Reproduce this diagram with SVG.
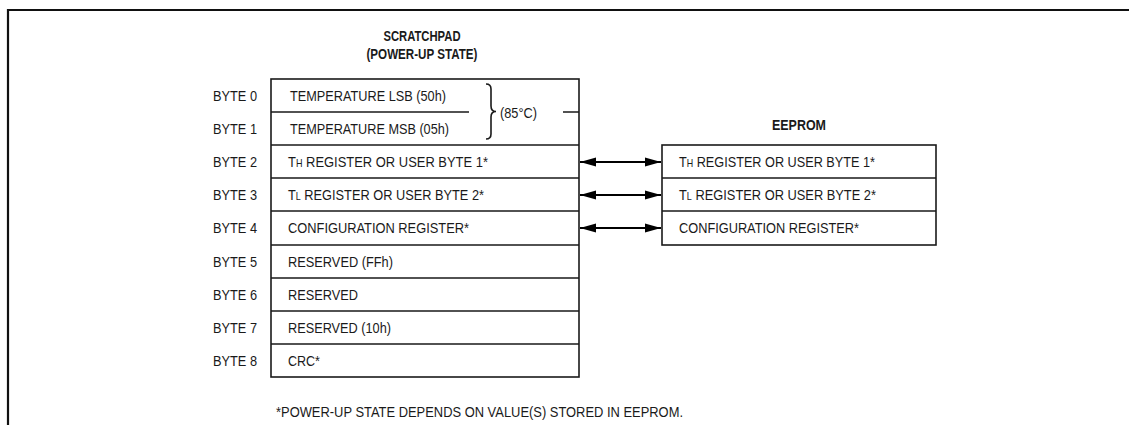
<svg xmlns="http://www.w3.org/2000/svg" width="1129" height="425" viewBox="0 0 1129 425">
<style>
text{font-family:"Liberation Sans",Arial,sans-serif;font-size:15px;fill:#1a1a1a}
.b{font-weight:bold;font-size:14.5px}
.sub{font-size:10.5px}
.box{fill:#fff;stroke:#1a1a1a;stroke-width:1.6}
.ln{stroke:#1a1a1a;stroke-width:1.6;fill:none}
.con{stroke:#000;stroke-width:1.8;fill:none;marker-start:url(#ah);marker-end:url(#ah)}
</style>
<defs>
<marker id="ah" viewBox="0 0 16 10" refX="16" refY="5" markerWidth="16" markerHeight="10" markerUnits="userSpaceOnUse" orient="auto-start-reverse">
<path d="M0,0.5 L16,5 L0,9.5 Z" fill="#000"/>
</marker>
</defs>
<rect width="1129" height="425" fill="#fff"/>
<g id="frame">
<path d="M8,425 V10 H1129" stroke="#111" stroke-width="2.2" fill="none"/>
</g>
<g id="scratchpad">
<text class="b" x="422" y="41" text-anchor="middle" textLength="77" lengthAdjust="spacingAndGlyphs">SCRATCHPAD</text>
<text class="b" x="422" y="59" text-anchor="middle" textLength="111" lengthAdjust="spacingAndGlyphs">(POWER-UP STATE)</text>
<rect class="box" x="271" y="79" width="308" height="298"/>
<path class="ln" d="M271,112 H469 M563,112 H579 M271,145 H579 M271,178 H579 M271,211 H579 M271,245 H579 M271,278 H579 M271,311 H579 M271,344 H579"/>
<path class="ln" stroke-width="1" d="M486,84 Q491,84 491,89 L491,106 Q491,111.5 496,111.5 Q491,111.5 491,117 L491,134 Q491,139 486,139"/>
<text x="500" y="118" textLength="37" lengthAdjust="spacingAndGlyphs">(85°C)</text>
<text x="213" y="101" textLength="44" lengthAdjust="spacingAndGlyphs">BYTE 0</text>
<text x="213" y="134" textLength="44" lengthAdjust="spacingAndGlyphs">BYTE 1</text>
<text x="213" y="167" textLength="44" lengthAdjust="spacingAndGlyphs">BYTE 2</text>
<text x="213" y="200" textLength="44" lengthAdjust="spacingAndGlyphs">BYTE 3</text>
<text x="213" y="233" textLength="44" lengthAdjust="spacingAndGlyphs">BYTE 4</text>
<text x="213" y="267" textLength="44" lengthAdjust="spacingAndGlyphs">BYTE 5</text>
<text x="213" y="300" textLength="44" lengthAdjust="spacingAndGlyphs">BYTE 6</text>
<text x="213" y="333" textLength="44" lengthAdjust="spacingAndGlyphs">BYTE 7</text>
<text x="213" y="366" textLength="44" lengthAdjust="spacingAndGlyphs">BYTE 8</text>
<text x="290" y="101" textLength="156" lengthAdjust="spacingAndGlyphs">TEMPERATURE LSB (50h)</text>
<text x="290" y="134" textLength="159" lengthAdjust="spacingAndGlyphs">TEMPERATURE MSB (05h)</text>
<text x="288" y="167" textLength="200" lengthAdjust="spacingAndGlyphs">T<tspan class="sub">H</tspan> REGISTER OR USER BYTE 1*</text>
<text x="288" y="200" textLength="196" lengthAdjust="spacingAndGlyphs">T<tspan class="sub">L</tspan> REGISTER OR USER BYTE 2*</text>
<text x="288" y="233" textLength="181" lengthAdjust="spacingAndGlyphs">CONFIGURATION REGISTER*</text>
<text x="288" y="267" textLength="105" lengthAdjust="spacingAndGlyphs">RESERVED (FFh)</text>
<text x="288" y="300" textLength="70" lengthAdjust="spacingAndGlyphs">RESERVED</text>
<text x="288" y="333" textLength="103" lengthAdjust="spacingAndGlyphs">RESERVED (10h)</text>
<text x="288" y="366" textLength="32" lengthAdjust="spacingAndGlyphs">CRC*</text>
</g>
<g id="eeprom">
<text class="b" x="772" y="130" textLength="54" lengthAdjust="spacingAndGlyphs">EEPROM</text>
<rect class="box" x="662" y="145" width="274" height="100"/>
<path class="ln" d="M662,178 H936 M662,211 H936"/>
<text x="679" y="167" textLength="196" lengthAdjust="spacingAndGlyphs">T<tspan class="sub">H</tspan> REGISTER OR USER BYTE 1*</text>
<text x="679" y="200" textLength="197" lengthAdjust="spacingAndGlyphs">T<tspan class="sub">L</tspan> REGISTER OR USER BYTE 2*</text>
<text x="679" y="233" textLength="180" lengthAdjust="spacingAndGlyphs">CONFIGURATION REGISTER*</text>
</g>
<g id="connectors">
<line class="con" x1="580" y1="162" x2="661" y2="162"/>
<line class="con" x1="580" y1="195" x2="661" y2="195"/>
<line class="con" x1="580" y1="228" x2="661" y2="228"/>
</g>
<g id="footnote">
<text x="276" y="417" textLength="407" lengthAdjust="spacingAndGlyphs">*POWER-UP STATE DEPENDS ON VALUE(S) STORED IN EEPROM.</text>
</g>
</svg>
